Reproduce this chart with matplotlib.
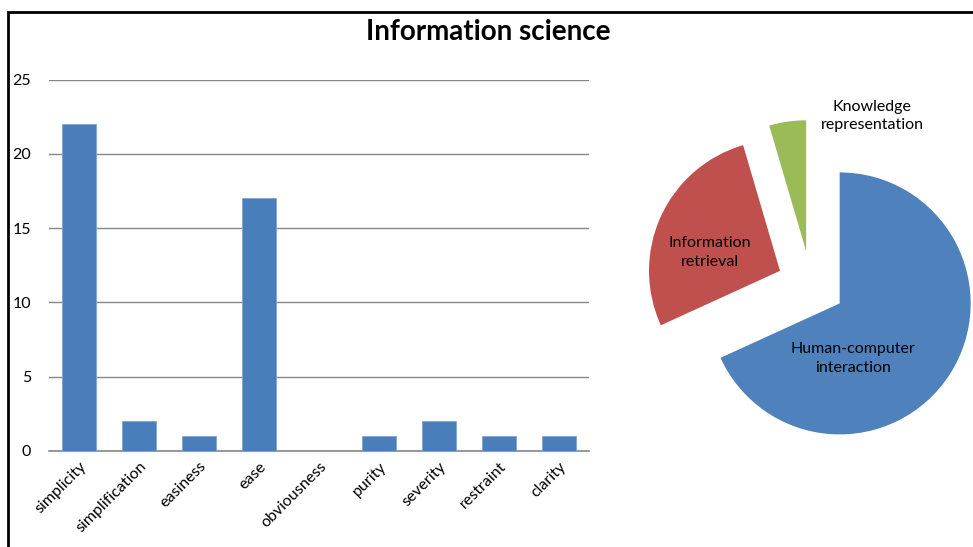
import matplotlib
matplotlib.use("Agg")
import matplotlib.pyplot as plt
from matplotlib.patches import Rectangle

plt.rcParams['font.family'] = ['Lato', 'DejaVu Sans']

# word counts for the bar chart
words = ['simplicity', 'simplification', 'easiness', 'ease', 'obviousness',
         'purity', 'severity', 'restraint', 'clarity']
counts = [22, 2, 1, 17, 0, 1, 2, 1, 1]

# subfield shares for the pie
fields = ['Human-computer\ninteraction', 'Information\nretrieval', 'Knowledge\nrepresentation']
field_counts = [15, 6, 1]
field_colors = ['#4F81BD', '#C0504D', '#9BBB59']

W, H = 973, 547
fig = plt.figure(figsize=(W / 100, H / 100), dpi=100)

# frame around the chart (runs off the right and bottom edges)
fig.patches.append(Rectangle((8 / W, -0.2), 1.5, (H - 12) / H + 0.2,
                             transform=fig.transFigure, fill=False,
                             edgecolor='black', linewidth=2))

fig.text(488 / W, 1 - 32 / H, 'Information science', ha='center', va='center',
         fontsize=20, fontweight='bold')

# bar chart
ax = fig.add_axes([49 / W, 1 - 451 / H, 540 / W, (451 - 79.6) / H])
ax.bar(range(len(words)), counts, width=0.57, color='#4A7EBB',
       edgecolor='#7FA6D6', linewidth=0.6, zorder=3)
ax.set_xlim(-0.5, len(words) - 0.5)
ax.set_ylim(0, 25)
ax.set_yticks([0, 5, 10, 15, 20, 25])
ax.yaxis.grid(True, color='#878787', linewidth=1, zorder=0)
for s in ['top', 'right', 'left']:
    ax.spines[s].set_visible(False)
ax.spines['bottom'].set_color('#878787')
ax.spines['bottom'].set_linewidth(1.2)
ax.tick_params(axis='y', length=0, pad=13, labelsize=11.5)
ax.tick_params(axis='x', length=0, pad=6, labelsize=11.5)
ax.set_xticks(range(len(words)))
ax.set_xticklabels(words, rotation=45, ha='right', rotation_mode='anchor')

# exploded pie, centre at (811, 285) px, radius 131 px
r = 131
half = 170
pax = fig.add_axes([(811 - half) / W, 1 - (285 + half) / H, 2 * half / W, 2 * half / H])
pax.pie(field_counts, colors=field_colors, startangle=90, counterclock=False,
        explode=[0.26] * 3, radius=1, wedgeprops={'linewidth': 0})
pax.set_xlim(-half / r, half / r)
pax.set_ylim(-half / r, half / r)
pax.set_aspect('equal')
pax.axis('off')

label_pos = [(0.32, -0.56), (-0.77, 0.25), (0.466, 1.29)]
for name, (x, y) in zip(fields, label_pos):
    pax.text(x, y, name, ha='center', va='center', fontsize=11.5,
             linespacing=1.45, color='black')

fig.savefig('out.png', dpi=100)
